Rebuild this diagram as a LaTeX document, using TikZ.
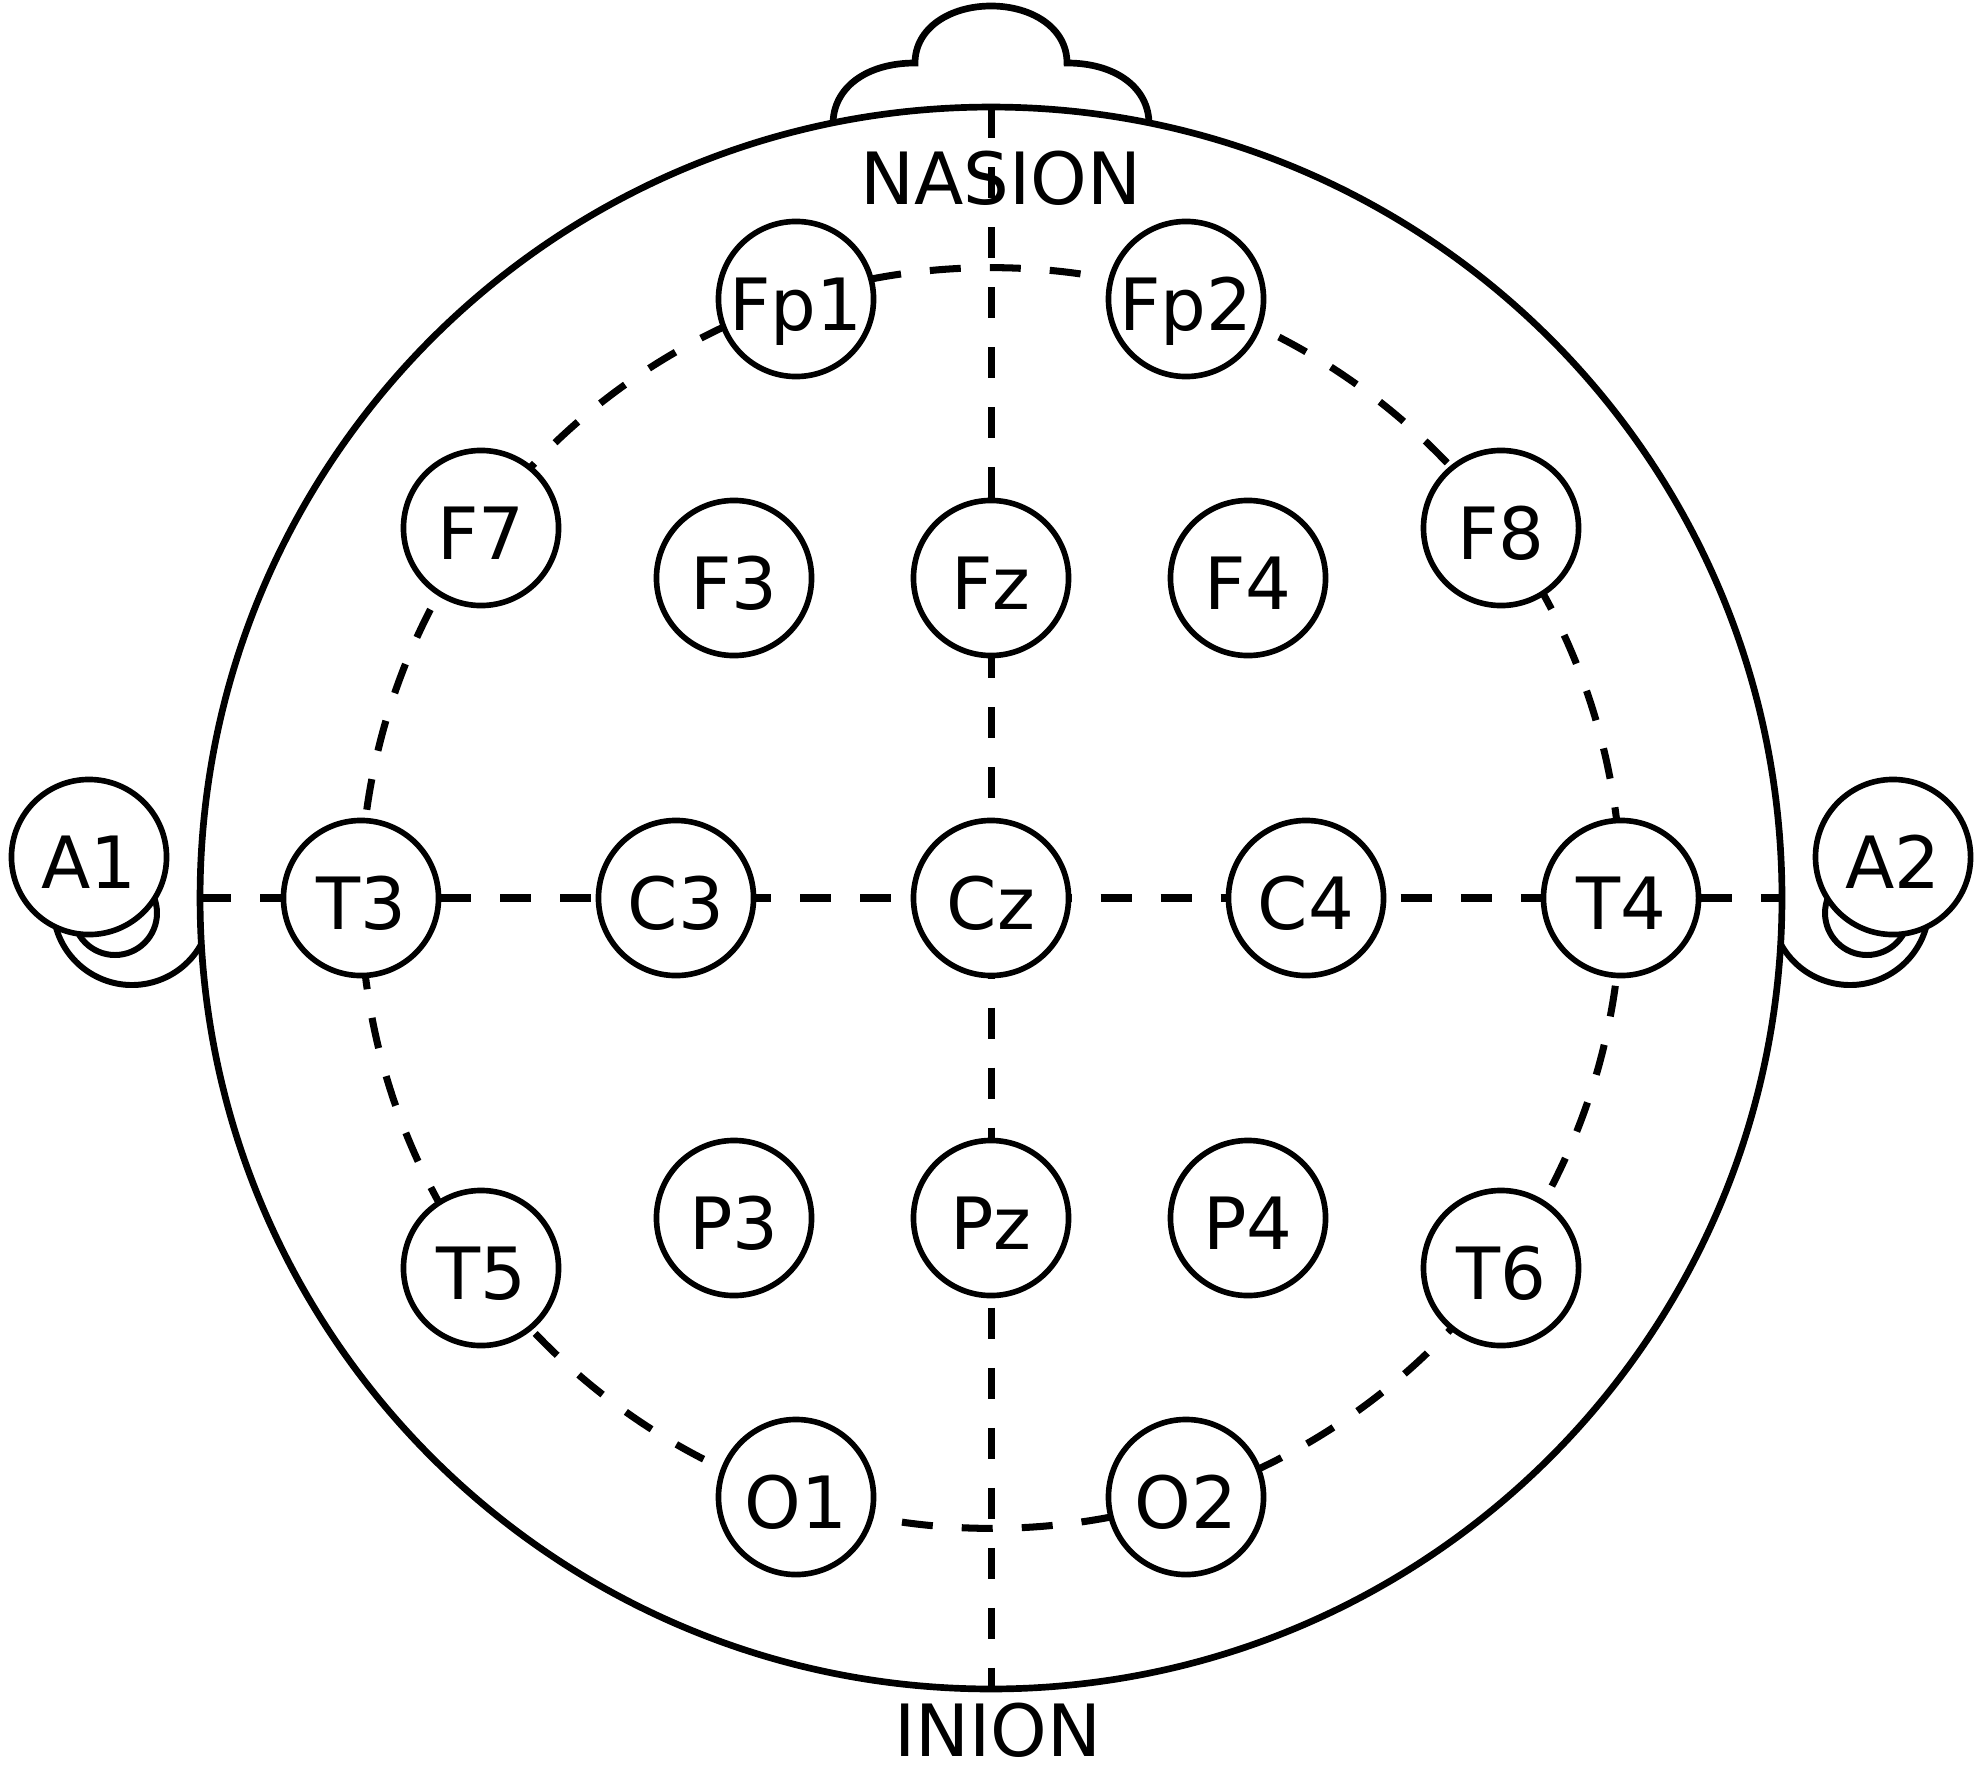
\documentclass[tikz,border=0pt]{standalone}
\usepackage{fontspec}
\setmainfont{DejaVu Sans}
\begin{document}
\begin{tikzpicture}[x=0.01cm, y=-0.01cm,
  lbl/.style={font=\fontsize{20.5pt}{24pt}\selectfont},
  electrode/.style={circle, draw, fill=white, line width=1.6pt, minimum size=1.55cm,
    inner sep=0pt, outer sep=0pt, lbl, text height=17.7pt, text depth=0pt},
  headline/.style={line width=1.9pt},
  earline/.style={line width=1.7pt},
  guide/.style={line width=2pt, dash pattern=on 0.31cm off 0.29cm}]
\useasboundingbox (0,0) rectangle (1983,1773);

% ears
\draw[earline] (132,906) ++(30:79) arc[start angle=30, end angle=200, radius=79];
\draw[earline] (115,913) circle[radius=42];
\draw[earline] (1850,906) ++(150:79) arc[start angle=150, end angle=-20, radius=79];
\draw[earline] (1867,913) circle[radius=42];
\node[electrode] (A1) at (89,857) {A1};
\node[electrode] (A2) at (1893,857) {A2};

% nose
\draw[headline] (833,124) .. controls (833,88) and (866,63) .. (915,63)
  .. controls (915,28) and (950,6) .. (991,6)
  .. controls (1032,6) and (1067,28) .. (1067,63)
  .. controls (1116,63) and (1149,88) .. (1149,124);

% head
\node[circle, draw, headline, minimum size=15.81cm, inner sep=0pt, outer sep=0pt] (head) at (991,898) {};

% guide lines
\draw[guide] (head.north) -- (head.south);
\draw[guide] (head.west) -- (head.east);
\node[circle, draw, guide, minimum size=12.6cm, inner sep=0pt, outer sep=0pt] (ring) at (991,898) {};

% electrodes
\node[electrode] (Fp1) at (796,299) {Fp1};
\node[electrode] (Fp2) at (1186,299) {Fp2};
\node[electrode] (F7) at (481,528) {F7};
\node[electrode] (F3) at (734,578) {F3};
\node[electrode] (Fz) at (991,578) {Fz};
\node[electrode] (F4) at (1248,578) {F4};
\node[electrode] (F8) at (1501,528) {F8};
\node[electrode] (T3) at (361,898) {T3};
\node[electrode] (C3) at (676,898) {C3};
\node[electrode] (Cz) at (991,898) {Cz};
\node[electrode] (C4) at (1306,898) {C4};
\node[electrode] (T4) at (1621,898) {T4};
\node[electrode] (T5) at (481,1268) {T5};
\node[electrode] (P3) at (734,1218) {P3};
\node[electrode] (Pz) at (991,1218) {Pz};
\node[electrode] (P4) at (1248,1218) {P4};
\node[electrode] (T6) at (1501,1268) {T6};
\node[electrode] (O1) at (796,1497) {O1};
\node[electrode] (O2) at (1186,1497) {O2};

% labels
\node[lbl, anchor=base] (nasion) at (1001,205) {NASION};
\node[lbl, anchor=base] (inion) at (998,1756) {INION};
\end{tikzpicture}
\end{document}
